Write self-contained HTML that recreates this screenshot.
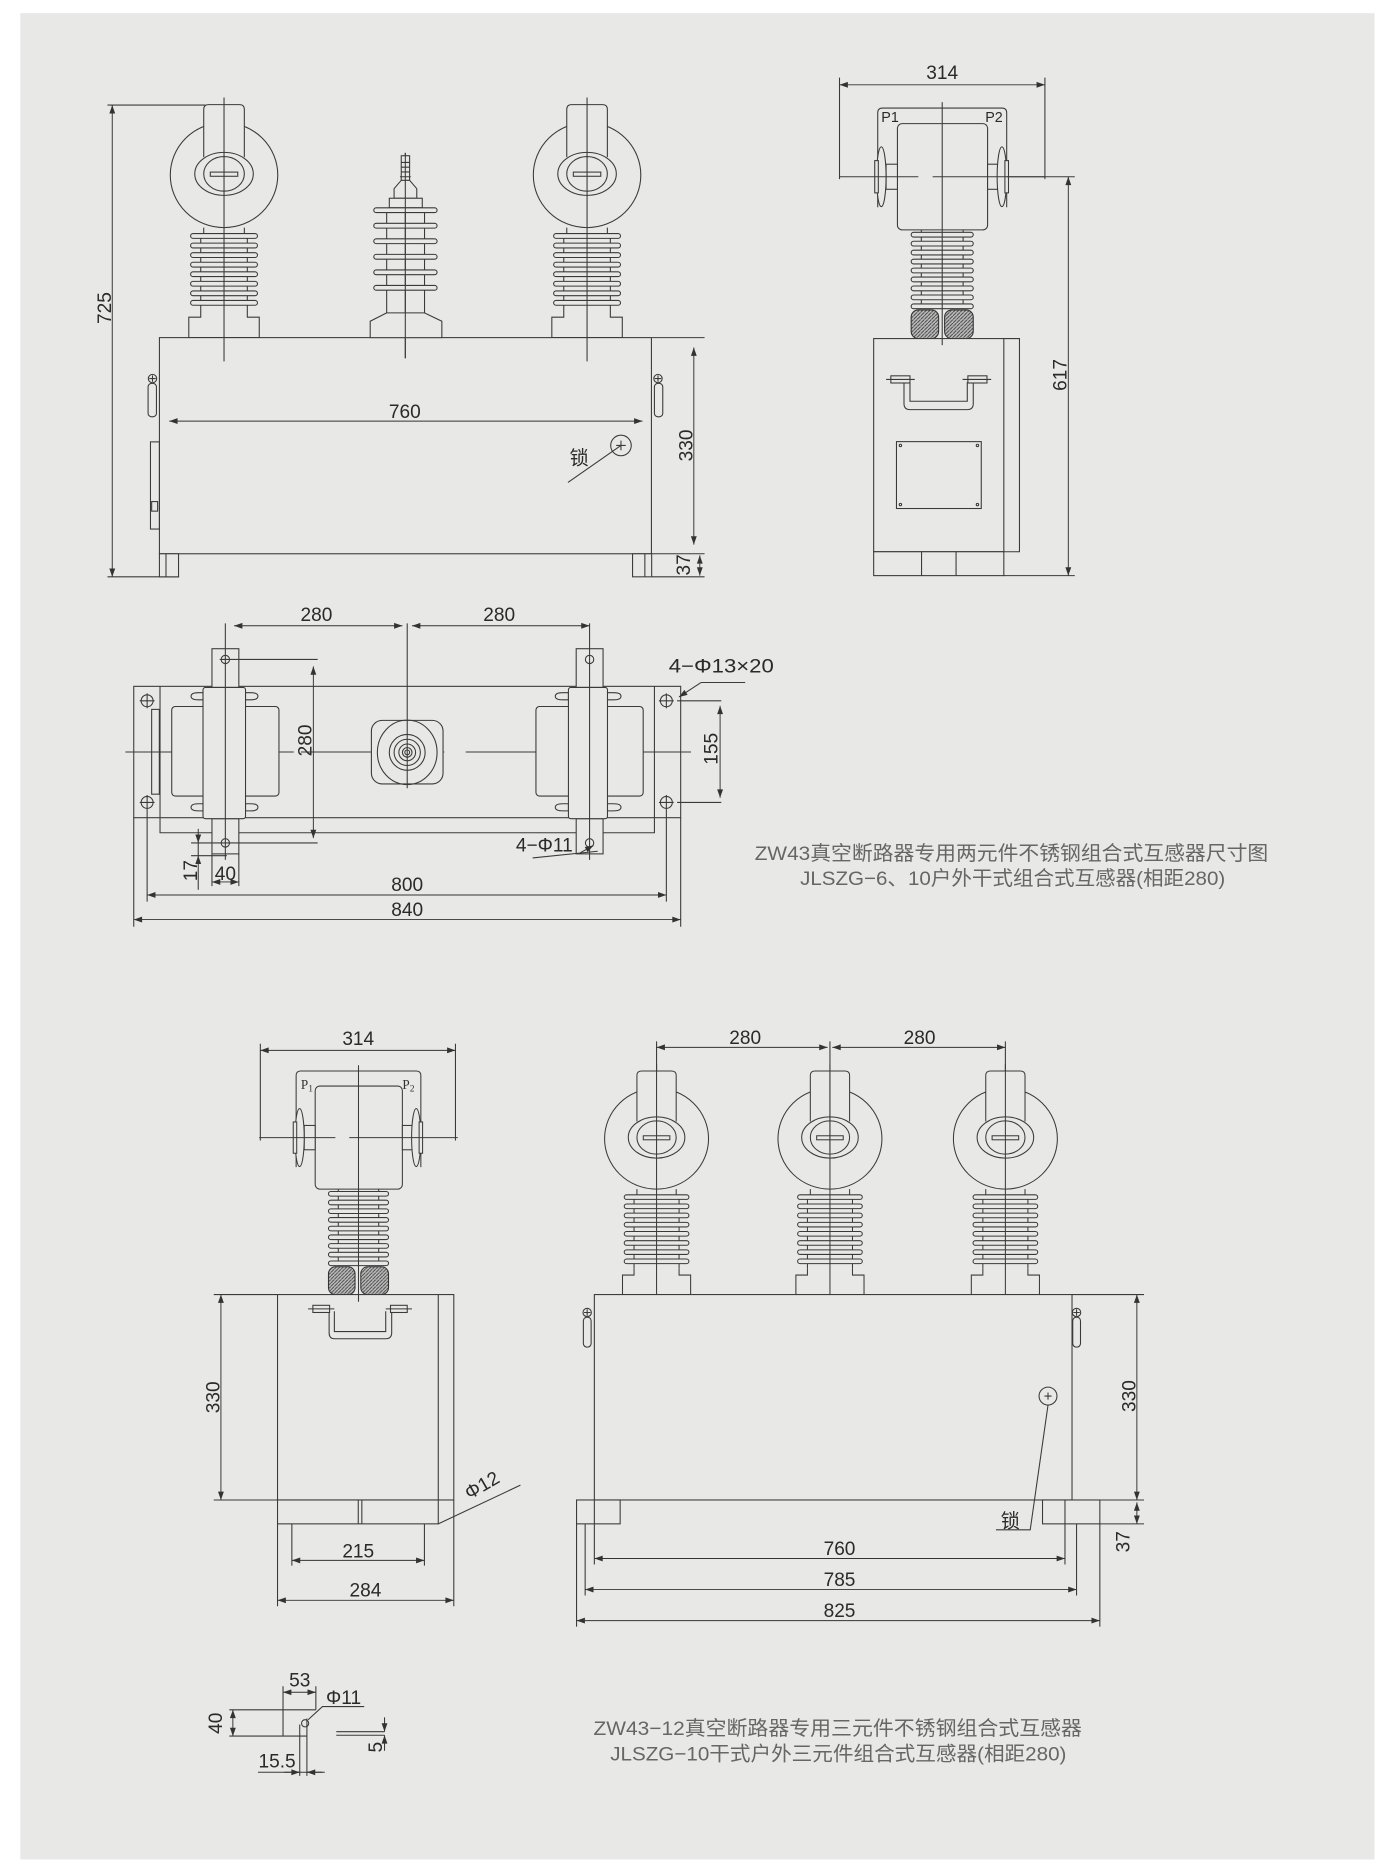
<!DOCTYPE html>
<html><head><meta charset="utf-8"><style>
html,body{margin:0;padding:0;background:#fff;}
svg{display:block;}
.s{fill:none;stroke:#3a3a3a;stroke-width:0.9;}
.f{fill:#e8e8e6;stroke:#3a3a3a;stroke-width:0.9;}
.d{fill:none;stroke:#333;stroke-width:0.8;marker-start:url(#a);marker-end:url(#a);}
.t{font-family:"Liberation Sans","Noto Sans CJK SC",sans-serif;font-size:16px;fill:#2a2a2a;}
.c{font-family:"Liberation Sans","Noto Sans CJK SC",sans-serif;font-size:16.5px;fill:#666;}
</style></head><body>
<svg width="1396" height="1869" viewBox="0 0 1169 1565" preserveAspectRatio="none" xmlns="http://www.w3.org/2000/svg">
<defs>
<marker id="a" viewBox="0 0 10 10" refX="10" refY="5" markerWidth="8" markerHeight="7" orient="auto-start-reverse" markerUnits="userSpaceOnUse"><path d="M0 1.5L10 5L0 8.5z" fill="#333"/></marker>
<pattern id="h" width="3" height="3" patternUnits="userSpaceOnUse"><rect width="3" height="3" fill="#bbb"/><path d="M0 3L3 0" stroke="#444" stroke-width="0.8"/></pattern>
<g id="ct">
<ellipse class="f" cx="0" cy="59" rx="45" ry="44"/>
<path class="f" d="M-17 44L-17 4Q-17 0-13 0L13 0Q17 0 17 4L17 44"/>
<ellipse class="f" cx="0" cy="58" rx="24.5" ry="18"/>
<ellipse class="s" cx="0" cy="58" rx="17" ry="14.5"/>
<rect class="s" x="-11.5" y="56.5" width="23" height="3.5"/>
<path class="s" d="M-17 103L-17 108M17 103L17 108M-19.5 108L-19.5 172M19.5 108L19.5 172"/>
<rect class="f" x="-28" y="108" width="56" height="4" rx="2"/>
<rect class="f" x="-28" y="116" width="56" height="4" rx="2"/>
<rect class="f" x="-28" y="124" width="56" height="4" rx="2"/>
<rect class="f" x="-28" y="132" width="56" height="4" rx="2"/>
<rect class="f" x="-28" y="140" width="56" height="4" rx="2"/>
<rect class="f" x="-28" y="148" width="56" height="4" rx="2"/>
<rect class="f" x="-28" y="156" width="56" height="4" rx="2"/>
<rect class="f" x="-28" y="164" width="56" height="4" rx="2"/>
<path class="f" d="M-19.5 172L-19.5 178L-29.5 178L-29.5 195L29.5 195L29.5 178L19.5 178L19.5 172"/>
<path class="s" d="M0 -6L0 215"/>
</g>
<g id="side">
<path class="s" d="M-54 83L-54 4Q-54 0-50 0L50 0Q54 0 54 4L54 83"/>
<rect class="f" x="-37.5" y="13" width="75.5" height="89" rx="4"/>
<rect class="f" x="-47" y="47" width="9.5" height="21"/>
<rect class="f" x="38" y="47" width="9.5" height="21"/>
<ellipse class="f" cx="-51" cy="57.5" rx="4" ry="25"/>
<ellipse class="f" cx="50" cy="57.5" rx="4" ry="25"/>
<rect class="f" x="-56.5" y="44" width="3" height="27"/>
<rect class="f" x="52.5" y="44" width="3" height="27"/>
<path class="s" d="M-86 57.5L-20 57.5M-8 57.5L86 57.5"/>
<path class="s" d="M-17.5 102L-17.5 168M17.5 102L17.5 168"/>
<rect class="f" x="-26" y="104" width="52" height="4" rx="2"/>
<rect class="f" x="-26" y="111.5" width="52" height="4" rx="2"/>
<rect class="f" x="-26" y="119" width="52" height="4" rx="2"/>
<rect class="f" x="-26" y="126.5" width="52" height="4" rx="2"/>
<rect class="f" x="-26" y="134" width="52" height="4" rx="2"/>
<rect class="f" x="-26" y="141.5" width="52" height="4" rx="2"/>
<rect class="f" x="-26" y="149" width="52" height="4" rx="2"/>
<rect class="f" x="-26" y="156.5" width="52" height="4" rx="2"/>
<rect class="f" x="-26" y="164" width="52" height="4" rx="2"/>
<rect x="-26" y="169" width="23" height="24" rx="6" fill="url(#h)" stroke="#333" stroke-width="0.9"/>
<rect x="2" y="169" width="24" height="24" rx="6" fill="url(#h)" stroke="#333" stroke-width="0.9"/>
<path class="s" d="M0 -5L0 199"/>
</g>
</defs>
<rect x="0" y="0" width="1169" height="1565" fill="#fff"/>
<rect x="17" y="11" width="1134" height="1546" fill="#e8e8e6"/>

<!-- ===== TOP LEFT FRONT VIEW ===== -->
<path class="s" d="M90 88L172 88M90 483L150 483"/>
<line class="d" x1="94" y1="88" x2="94" y2="483"/>
<text class="t" transform="translate(93,258) rotate(-90)" text-anchor="middle">725</text>
<rect class="f" x="133.5" y="282.7" width="412" height="181"/>
<rect class="f" x="133.5" y="463.7" width="16" height="19.3"/><path class="s" d="M139 463.7L139 483"/>
<rect class="f" x="529.7" y="463.7" width="16" height="19.3"/><path class="s" d="M540 463.7L540 483"/>
<path class="s" d="M546 282.7L590 282.7M546 463.7L590 463.7M546 483L590 483"/>
<line class="d" x1="581" y1="291" x2="581" y2="456"/>
<line class="d" x1="586" y1="465" x2="586" y2="482"/>
<text class="t" transform="translate(580,373) rotate(-90)" text-anchor="middle">330</text>
<text class="t" transform="translate(578,473) rotate(-90)" text-anchor="middle">37</text>
<line class="d" x1="141.7" y1="352.6" x2="538" y2="352.6"/>
<text class="t" x="339" y="350" text-anchor="middle">760</text>
<circle class="s" cx="520" cy="373" r="8.6"/><path class="s" d="M516 373L524 373M520 369L520 377M520 373L475.6 404"/>
<text class="t" x="477" y="389">锁</text>
<circle class="s" cx="127.7" cy="317" r="3.5"/><path class="s" d="M125 317L130.4 317M127.7 314.3L127.7 319.7"/>
<rect class="s" x="124" y="321" width="7" height="28" rx="3"/>
<circle class="s" cx="551" cy="317" r="3.5"/><path class="s" d="M548.3 317L553.7 317M551 314.3L551 319.7"/>
<rect class="s" x="548" y="321" width="7" height="28" rx="3"/>
<rect class="s" x="126" y="370" width="7.5" height="73"/><rect class="s" x="127" y="420" width="5" height="8"/>
<use href="#ct" x="187.6" y="87.6"/>
<use href="#ct" x="491.6" y="87.6"/>
<g>
<path class="s" d="M339.4 128L339.4 300"/>
<rect class="f" x="336" y="130.4" width="7" height="21"/>
<path class="s" d="M336 136L343 136M336 140L343 140M336 144L343 144M335 148L344 148"/>
<path class="f" d="M336 151L330 158L330 166L349 166L349 158L343 151Z"/>
<rect class="f" x="326" y="166" width="27.6" height="8"/>
<path class="s" d="M323.8 174L323.8 262M355.5 174L355.5 262"/>
<rect class="f" x="313" y="174" width="53" height="4" rx="2"/>
<rect class="f" x="313" y="187" width="53" height="4" rx="2"/>
<rect class="f" x="313" y="200" width="53" height="4" rx="2"/>
<rect class="f" x="313" y="213" width="53" height="4" rx="2"/>
<rect class="f" x="313" y="226" width="53" height="4" rx="2"/>
<rect class="f" x="313" y="239" width="53" height="4" rx="2"/>
<path class="f" d="M323.8 262L310 269L310 282.7L370 282.7L370 269L355.5 262Z"/>
<path class="s" d="M339.4 128L339.4 300"/>
</g>

<!-- ===== TOP RIGHT SIDE VIEW ===== -->
<use href="#side" x="789" y="90.5"/>
<path class="s" d="M703 65L703 150M875 65L875 150"/>
<line class="d" x1="703" y1="71" x2="875" y2="71"/>
<text class="t" x="789" y="66" text-anchor="middle">314</text>
<text class="t" x="738" y="102" style="font-size:12px">P1</text>
<text class="t" x="825" y="102" style="font-size:12px">P2</text>
<rect class="f" x="731.6" y="283.5" width="109" height="178.5"/>
<path class="s" d="M840.5 283.5L853.7 283.5L853.7 462L840.5 462"/>
<rect class="f" x="731.6" y="462" width="109" height="20"/>
<path class="s" d="M771.7 462L771.7 482M800.6 462L800.6 482M789 283.5L789 289"/>
<path class="s" d="M757 320L757 338Q757 343 762 343L810 343Q815 343 815 338L815 320M762 320L762 336L810 336L810 320"/>
<rect class="f" x="746" y="314.7" width="16" height="6"/><rect class="f" x="810.5" y="314.7" width="16" height="6"/>
<path class="s" d="M742 317.7L766 317.7M806 317.7L830 317.7"/>
<rect class="s" x="750.7" y="369.8" width="71" height="56"/>
<circle class="s" cx="754" cy="373" r="1"/><circle class="s" cx="818.5" cy="373" r="1"/><circle class="s" cx="754" cy="422.5" r="1"/><circle class="s" cx="818.5" cy="422.5" r="1"/>
<path class="s" d="M843 148L900 148M840 482L900 482"/>
<line class="d" x1="894.6" y1="148" x2="894.6" y2="482"/>
<text class="t" transform="translate(893,314) rotate(-90)" text-anchor="middle">617</text>

<!-- ===== PLAN VIEW ===== -->
<rect class="s" x="112" y="574.7" width="458" height="110"/>
<path class="s" d="M134 574.7L134 697.3L548 697.3L548 574.7"/>
<rect class="s" x="127" y="594" width="6.4" height="71"/>
<g class="s">
<circle cx="123.2" cy="586.8" r="5"/><path d="M117 586.8L129.4 586.8M123.2 580.6L123.2 593"/>
<circle cx="123.2" cy="671.9" r="5"/><path d="M117 671.9L129.4 671.9M123.2 665.7L123.2 678.1"/>
<circle cx="558" cy="586.8" r="5"/><path d="M551.8 586.8L564.2 586.8M558 580.6L558 593"/>
<circle cx="558" cy="671.9" r="5"/><path d="M551.8 671.9L564.2 671.9M558 665.7L558 678.1"/>
</g>
<path class="s" d="M105 629.7L148 629.7M156 629.7L178 629.7M200 629.7L226 629.7M232 629.7L246 629.7M252 629.7L330 629.7M352 629.7L372 629.7M390 629.7L455 629.7M463 629.7L484 629.7M504 629.7L515 629.7M531 629.7L578.6 629.7"/>
<rect class="f" x="143.8" y="591.6" width="89.8" height="75" rx="3"/>
<path class="f" d="M166 580Q160 580 160 583Q160 586 166 586L170 586L170 580ZM205.6 580L210 580Q216 580 216 583Q216 586 210 586L205.6 586Z"/>
<path class="f" d="M166 673Q160 673 160 676Q160 679 166 679L170 679L170 673ZM205.6 673L210 673Q216 673 216 676Q216 679 210 679L205.6 679Z"/>
<rect class="f" x="177.5" y="543.2" width="22.5" height="32.4"/>
<rect class="f" x="177.5" y="685.5" width="22.5" height="29.5"/>
<rect class="f" x="170" y="575.6" width="35.6" height="109.9" rx="2"/>
<path class="s" d="M188.7 522L188.7 720"/>
<circle class="s" cx="188.7" cy="552.2" r="3.5"/><path class="s" d="M184 552.2L266 552.2"/>
<circle class="s" cx="188.7" cy="705.8" r="3.5"/><path class="s" d="M160 705.8L266 705.8M160 716.5L190 716.5"/>
<rect class="f" x="448.8" y="591.6" width="89.8" height="75" rx="3"/>
<path class="f" d="M471 580Q465 580 465 583Q465 586 471 586L476 586L476 580ZM508.7 580L514 580Q520 580 520 583Q520 586 514 586L508.7 586Z"/>
<path class="f" d="M471 673Q465 673 465 676Q465 679 471 679L476 679L476 673ZM508.7 673L514 673Q520 673 520 676Q520 679 514 679L508.7 679Z"/>
<rect class="f" x="482.5" y="543.2" width="22.5" height="32.4"/>
<rect class="f" x="482.5" y="685.5" width="22.5" height="29.5"/>
<rect class="f" x="476" y="575.6" width="32.7" height="109.9" rx="2"/>
<path class="s" d="M493.7 522L493.7 720"/>
<circle class="s" cx="493.7" cy="552.2" r="3.5"/><circle class="s" cx="493.7" cy="705.8" r="3.5"/>
<rect class="f" x="311" y="603.2" width="60" height="53.2" rx="9"/>
<ellipse class="s" cx="341" cy="630" rx="25" ry="27"/>
<circle class="s" cx="341" cy="630" r="15"/><circle class="s" cx="341" cy="630" r="11"/><circle class="s" cx="341" cy="630" r="7"/><circle class="s" cx="341" cy="630" r="4"/><circle class="s" cx="341" cy="630" r="2"/>
<path class="s" d="M341 522L341 660"/>
<line class="d" x1="196" y1="524" x2="337" y2="524"/>
<line class="d" x1="345" y1="524" x2="493.7" y2="524"/>
<text class="t" x="265" y="520" text-anchor="middle">280</text>
<text class="t" x="418" y="520" text-anchor="middle">280</text>
<line class="d" x1="262.4" y1="558" x2="262.4" y2="701.8"/>
<text class="t" transform="translate(261,620) rotate(-90)" text-anchor="middle">280</text>
<path class="s" d="M567 586.8L604 586.8M567 671.9L604 671.9"/>
<line class="d" x1="603" y1="591" x2="603" y2="668"/>
<text class="t" transform="translate(601,627) rotate(-90)" text-anchor="middle">155</text>
<path class="s" d="M587 571.5L624 571.5"/><line class="s" x1="587" y1="571.5" x2="568.6" y2="583.6" marker-end="url(#a)"/>
<text class="t" x="560" y="563" textLength="88" lengthAdjust="spacingAndGlyphs">4−Φ13×20</text>
<text class="t" x="432" y="713">4−Φ11</text>
<line class="s" x1="446" y1="718.4" x2="500.5" y2="712.8"/><line class="s" x1="486" y1="714" x2="497" y2="708" marker-end="url(#a)"/>
<line class="d" x1="166" y1="694" x2="166" y2="705.8" style="marker-start:none"/>
<line class="d" x1="166" y1="728" x2="166" y2="716.5" style="marker-start:none"/>
<path class="s" d="M166 705.8L166 716.5M166 728L166 745"/>
<text class="t" transform="translate(165,729) rotate(-90)" text-anchor="middle">17</text>
<line class="d" x1="177.5" y1="738.5" x2="200" y2="738.5"/>
<path class="s" d="M177.5 715L177.5 742M200 715L200 742"/>
<text class="t" x="188.7" y="737" text-anchor="middle">40</text>
<path class="s" d="M123.2 678L123.2 755M558 678L558 755M112 684.7L112 776M570 684.7L570 776"/>
<line class="d" x1="123.2" y1="749.4" x2="558" y2="749.4"/>
<text class="t" x="341" y="746" text-anchor="middle">800</text>
<line class="d" x1="112" y1="770" x2="570" y2="770"/>
<text class="t" x="341" y="767" text-anchor="middle">840</text>
<text class="c" x="632" y="720" textLength="430" lengthAdjust="spacingAndGlyphs">ZW43真空断路器专用两元件不锈钢组合式互感器尺寸图</text>
<text class="c" x="670" y="741" textLength="356" lengthAdjust="spacingAndGlyphs">JLSZG−6、10户外干式组合式互感器(相距280)</text>

<!-- ===== BOTTOM LEFT SIDE VIEW ===== -->
<g transform="translate(300.2,896.8) scale(0.967,0.97)"><use href="#side"/></g>
<path class="s" d="M218 874L218 955M381.4 874L381.4 955"/>
<line class="d" x1="218" y1="879.5" x2="381.4" y2="879.5"/>
<text class="t" x="300" y="875" text-anchor="middle">314</text>
<text x="252" y="912" style="font-family:'Liberation Serif',serif;font-size:11px;fill:#333">P<tspan style="font-size:8px" dy="2">1</tspan></text>
<text x="337" y="912" style="font-family:'Liberation Serif',serif;font-size:11px;fill:#333">P<tspan style="font-size:8px" dy="2">2</tspan></text>
<rect class="f" x="232.4" y="1084" width="147.6" height="172"/>
<path class="s" d="M367 1084L367 1256M300.2 1084L300.2 1090"/>
<rect class="f" x="232.4" y="1256" width="134.6" height="20"/>
<path class="s" d="M300 1256L300 1276M303 1256L303 1276"/>
<path class="s" d="M275.6 1098L275.6 1116Q275.6 1121 280 1121L323 1121Q328 1121 328 1116L328 1098M280 1098L280 1115L323 1115L323 1098"/>
<rect class="f" x="262" y="1093" width="14" height="6"/><rect class="f" x="327" y="1093" width="14" height="6"/>
<path class="s" d="M258 1096L280 1096M323 1096L345 1096"/>
<path class="s" d="M179 1084L232 1084M179 1256L232 1256"/>
<line class="d" x1="185" y1="1084" x2="185" y2="1256"/>
<text class="t" transform="translate(184,1170) rotate(-90)" text-anchor="middle">330</text>
<path class="s" d="M367 1276L435.8 1243.6"/>
<text class="t" transform="translate(393,1256) rotate(-30)">Φ12</text>
<path class="s" d="M244.4 1276L244.4 1311M355.4 1276L355.4 1311M232.4 1276L232.4 1345M380 1256L380 1345"/>
<line class="d" x1="244.4" y1="1306.6" x2="355.4" y2="1306.6"/>
<text class="t" x="300" y="1304" text-anchor="middle">215</text>
<line class="d" x1="232.4" y1="1340" x2="380" y2="1340"/>
<text class="t" x="306" y="1337" text-anchor="middle">284</text>

<!-- ===== BOTTOM RIGHT FRONT VIEW ===== -->
<g transform="translate(549.8,896.8) scale(0.967,0.96)"><use href="#ct"/></g>
<g transform="translate(695,896.8) scale(0.967,0.96)"><use href="#ct"/></g>
<g transform="translate(841.9,896.8) scale(0.967,0.96)"><use href="#ct"/></g>
<path class="s" d="M549.8 872L549.8 897M841.9 872L841.9 897M695 872L695 965"/>
<line class="d" x1="549.8" y1="877" x2="693" y2="877"/>
<line class="d" x1="697" y1="877" x2="841.9" y2="877"/>
<text class="t" x="624" y="874" text-anchor="middle">280</text>
<text class="t" x="770" y="874" text-anchor="middle">280</text>
<rect class="f" x="497.7" y="1084" width="400" height="172"/>
<rect class="f" x="482.8" y="1256" width="36.5" height="20"/>
<rect class="f" x="873" y="1256" width="48" height="20"/>
<path class="s" d="M897.7 1084L958 1084M897.7 1256L958 1256M921 1276L958 1276"/>
<line class="d" x1="952" y1="1084" x2="952" y2="1256"/>
<line class="d" x1="952" y1="1258" x2="952" y2="1276"/>
<text class="t" transform="translate(951,1169) rotate(-90)" text-anchor="middle">330</text>
<text class="t" transform="translate(946,1291) rotate(-90)" text-anchor="middle">37</text>
<circle class="s" cx="491.7" cy="1099" r="3.5"/><path class="s" d="M489 1099L494.4 1099M491.7 1096.3L491.7 1101.7"/>
<rect class="s" x="488.5" y="1103" width="6.5" height="25" rx="3"/>
<circle class="s" cx="901.5" cy="1099" r="3.5"/><path class="s" d="M898.8 1099L904.2 1099M901.5 1096.3L901.5 1101.7"/>
<rect class="s" x="898.3" y="1103" width="6.5" height="25" rx="3"/>
<circle class="s" cx="877.6" cy="1169" r="7.5"/><path class="s" d="M874.6 1169L880.6 1169M877.6 1166L877.6 1172M877.6 1176.5L862.7 1281L834 1281"/>
<text class="t" x="838" y="1279">锁</text>
<path class="s" d="M497.7 1256L497.7 1310M891.8 1256L891.8 1310M490 1276L490 1336M901.5 1276L901.5 1336M482.8 1276L482.8 1362M921 1276L921 1362"/>
<line class="d" x1="497.7" y1="1305" x2="891.8" y2="1305"/>
<text class="t" x="703" y="1302" text-anchor="middle">760</text>
<line class="d" x1="490" y1="1331" x2="901.5" y2="1331"/>
<text class="t" x="703" y="1328" text-anchor="middle">785</text>
<line class="d" x1="482.8" y1="1357" x2="921" y2="1357"/>
<text class="t" x="703" y="1354" text-anchor="middle">825</text>

<!-- ===== BRACKET DETAIL ===== -->
<path class="s" d="M192 1431.7L264.5 1431.7M192 1453.7L257 1453.7M237 1412L237 1453.7M257 1439L257 1487M251 1444L251 1487M264.5 1412L264.5 1431.7"/>
<line class="d" x1="237" y1="1417" x2="264.5" y2="1417"/>
<text class="t" x="251" y="1412" text-anchor="middle">53</text>
<line class="d" x1="195" y1="1431.7" x2="195" y2="1453.7"/>
<text class="t" transform="translate(186,1443) rotate(-90)" text-anchor="middle">40</text>
<circle class="s" cx="255.5" cy="1443" r="3"/>
<path class="s" d="M258 1440L270 1429L305 1429"/>
<text class="t" x="273" y="1427">Φ11</text>
<path class="s" d="M216 1484L272 1484"/>
<line class="s" x1="238" y1="1484" x2="251" y2="1484" marker-end="url(#a)"/>
<line class="s" x1="270" y1="1484" x2="257" y2="1484" marker-end="url(#a)"/>
<text class="t" x="232" y="1480" text-anchor="middle">15.5</text>
<path class="s" d="M281.6 1450L322 1450M281.6 1453L322 1453"/>
<line class="s" x1="322" y1="1438" x2="322" y2="1450" marker-end="url(#a)"/>
<line class="s" x1="322" y1="1466" x2="322" y2="1453" marker-end="url(#a)"/>
<text class="t" transform="translate(320,1463) rotate(-90)" text-anchor="middle">5</text>
<text class="c" x="497" y="1453" textLength="409" lengthAdjust="spacingAndGlyphs">ZW43−12真空断路器专用三元件不锈钢组合式互感器</text>
<text class="c" x="511" y="1474" textLength="382" lengthAdjust="spacingAndGlyphs">JLSZG−10干式户外三元件组合式互感器(相距280)</text>
</svg>
</body></html>
